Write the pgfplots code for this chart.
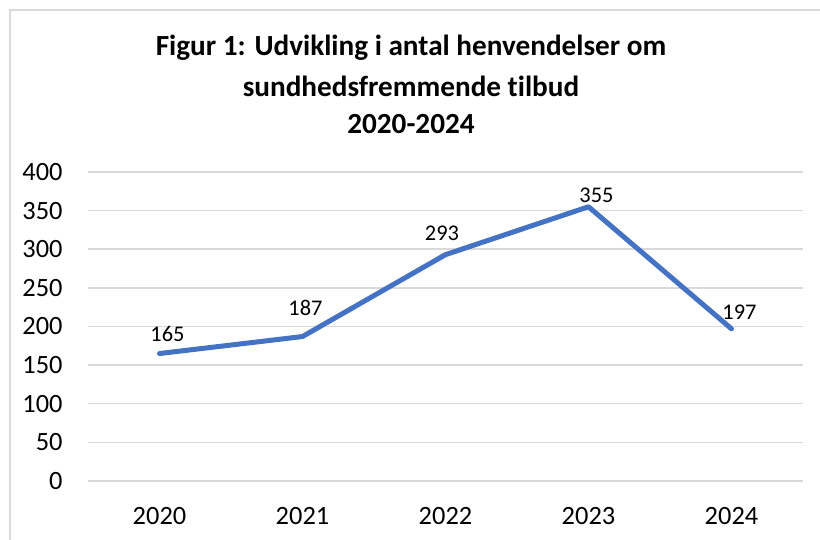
\documentclass[border=0pt]{standalone}
\usepackage{pgfplots}
\pgfplotsset{compat=1.18}
\usepackage{fontspec}
\setmainfont[Ligatures={NoCommon}]{Carlito}
\definecolor{gridgray}{HTML}{D9D9D9}
\definecolor{lineblue}{HTML}{4472C4}
\begin{document}
\begin{tikzpicture}
\useasboundingbox (0,0) rectangle (410pt,270pt);
\draw[gridgray, line width=0.75pt] (5pt,0) -- (5pt,265pt) -- (410pt,265pt);
\node[font=\fontsize{14.6}{16}\selectfont\bfseries, anchor=center] at (205.5pt,246pt) {Figur 1: Udvikling i antal henvendelser om};
\node[font=\fontsize{14.6}{16}\selectfont\bfseries, anchor=center] at (205.5pt,227pt) {sundhedsfremmende tilbud};
\node[font=\fontsize{14.6}{16}\selectfont\bfseries, anchor=center] at (205.5pt,208pt) {2020-2024};
\begin{axis}[
  at={(44pt,29.5pt)}, anchor=south west,
  scale only axis, width=357.5pt, height=154.5pt,
  xmin=-0.5, xmax=4.5, ymin=0, ymax=400,
  xtick={0,1,2,3,4}, xticklabels={2020,2021,2022,2023,2024},
  ytick={0,50,100,150,200,250,300,350,400},
  axis line style={draw=none},
  tick style={draw=none},
  ymajorgrids, grid style={gridgray, line width=0.75pt},
  ticklabel style={font=\fontsize{13.2}{15}\selectfont},
  yticklabel style={inner sep=0pt, anchor=east, xshift=-12.5pt},
  xticklabel style={inner sep=0pt, anchor=north, yshift=-13pt},
  /pgf/number format/assume math mode=true,
  clip=false,
]
\addplot[lineblue, line width=2.5pt, line cap=round, line join=round,
  visualization depends on={\thisrow{dx} \as \dx},
  visualization depends on={\thisrow{dy} \as \dy},
  nodes near coords,
  point meta=explicit,
  nodes near coords style={font=\fontsize{11.2}{13}\selectfont, text=black, anchor=center, inner sep=0pt, xshift=\dx pt, yshift=\dy pt},
] table[x=x, y=y, meta=y] {
x y dx dy
0 165 4 9.75
1 187 1.5 14.5
2 293 -1.75 10.5
3 355 4 5.5
4 197 4 8.5
};
\end{axis}
\end{tikzpicture}
\end{document}
